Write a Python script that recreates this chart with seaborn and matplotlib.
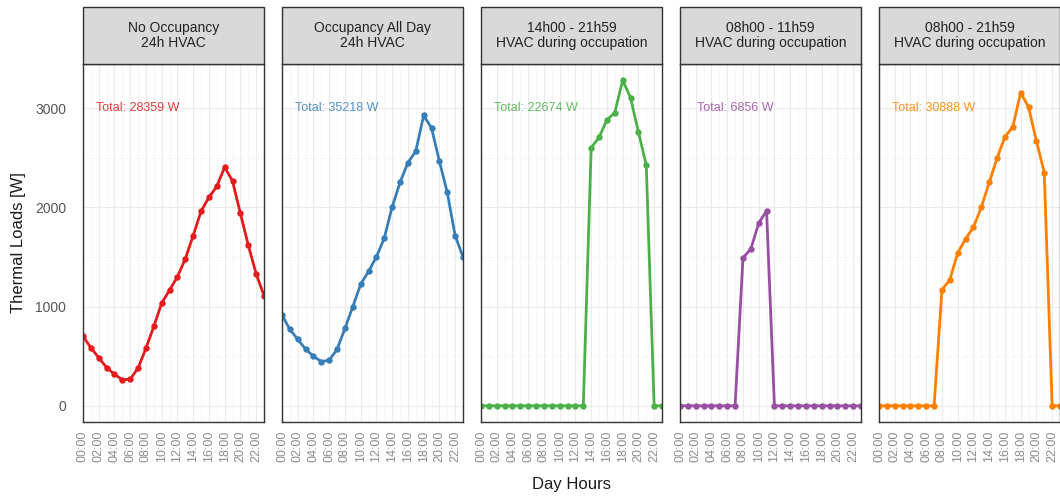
import numpy as np
import pandas as pd
import matplotlib
matplotlib.use("Agg")
import matplotlib.pyplot as plt
import seaborn as sns
from matplotlib.patches import Rectangle
from matplotlib.ticker import MultipleLocator

# ---------------- data ----------------
hours = list(range(24))
tick_hours = list(range(0, 24, 2))
tick_labels = [f"{h:02d}:00" for h in tick_hours]

scenarios = [
    "No Occupancy\n24h HVAC",
    "Occupancy All Day\n24h HVAC",
    "14h00 - 21h59\nHVAC during occupation",
    "08h00 - 11h59\nHVAC during occupation",
    "08h00 - 21h59\nHVAC during occupation",
]
totals = [
    "Total: 28359 W",
    "Total: 35218 W",
    "Total: 22674 W",
    "Total: 6856 W",
    "Total: 30888 W",
]
colors = ["#E41A1C", "#377EB8", "#4DAF4A", "#984EA3", "#FF7F00"]

no_occupancy = [702, 585, 485, 385, 318, 262, 268, 380, 580, 800, 1035, 1165, 1300,
                1480, 1715, 1960, 2100, 2210, 2405, 2265, 1940, 1620, 1330, 1110]
occupancy_all_day = [915, 770, 670, 570, 500, 445, 460, 570, 780, 1000, 1225, 1355, 1500,
                     1690, 2005, 2250, 2450, 2565, 2925, 2800, 2465, 2150, 1715, 1500]
hvac_14_22 = [0, 0, 0, 0, 0, 0, 0, 0, 0, 0, 0, 0, 0, 0,
              2600, 2705, 2880, 2955, 3280, 3105, 2760, 2425, 0, 0]
hvac_08_12 = [0, 0, 0, 0, 0, 0, 0, 0, 1490, 1580, 1840, 1965,
              0, 0, 0, 0, 0, 0, 0, 0, 0, 0, 0, 0]
hvac_08_22 = [0, 0, 0, 0, 0, 0, 0, 0, 1170, 1270, 1540, 1680, 1800, 2000,
              2250, 2495, 2710, 2810, 3155, 3010, 2670, 2350, 0, 0]

series = [no_occupancy, occupancy_all_day, hvac_14_22, hvac_08_12, hvac_08_22]

df = pd.concat(
    [pd.DataFrame({"hour": hours, "load": vals, "scenario": sc})
     for sc, vals in zip(scenarios, series)],
    ignore_index=True,
)

# ---------------- style ----------------
sns.set_theme(style="white")
plt.rcParams["font.family"] = ["Liberation Sans", "DejaVu Sans"]

fig, axes = plt.subplots(1, 5, figsize=(10.6, 4.96), dpi=100, sharey=True)
fig.subplots_adjust(left=0.0783, right=1.0, bottom=0.149, top=0.871, wspace=0.0995)

ymin, ymax = -164, 3444
strip_h = 57 / 358

for i, (ax, sc, tot, col) in enumerate(zip(axes, scenarios, totals, colors)):
    sub = df[df["scenario"] == sc]
    sns.lineplot(data=sub, x="hour", y="load", color=col, ax=ax,
                 linewidth=2.0, marker="o", markersize=4.6,
                 markeredgewidth=0, legend=False)
    ax.set_xlim(0, 23)
    ax.set_ylim(ymin, ymax)
    ax.set_xticks(tick_hours)
    ax.set_xticklabels(tick_labels, rotation=90)
    ax.xaxis.set_minor_locator(MultipleLocator(1))
    ax.set_yticks([0, 1000, 2000, 3000])
    ax.yaxis.set_minor_locator(MultipleLocator(500))
    ax.grid(True, which="major", color="#EBEBEB", linewidth=0.8)
    ax.grid(True, which="minor", color="#F3F3F3", linewidth=0.5)
    ax.set_axisbelow(True)
    ax.set_xlabel("")
    ax.set_ylabel("")
    for sp in ax.spines.values():
        sp.set_visible(True)
        sp.set_color("#333333")
        sp.set_linewidth(1.0)
    ax.tick_params(axis="x", which="major", labelsize=9, labelcolor="#8C8C8C",
                   length=0, pad=6)
    ax.tick_params(axis="y", which="major", labelsize=10, labelcolor="#555555",
                   length=0, pad=12)
    ax.tick_params(which="minor", length=0)
    # strip
    ax.add_patch(Rectangle((0, 1), 1, strip_h, transform=ax.transAxes,
                           facecolor="#D9D9D9", edgecolor="#333333",
                           linewidth=1.0, clip_on=False, zorder=3))
    ax.text(0.5, 1 + strip_h / 2, sc, transform=ax.transAxes, ha="center",
            va="center", fontsize=10, color="#222222", linespacing=1.1, zorder=4)
    # total annotation
    ax.text(7, 3000, tot, ha="center", va="center", fontsize=9,
            color=col, alpha=0.85)

fig.text(0.017, 0.51, "Thermal Loads [W]", rotation=90, ha="center",
         va="center", fontsize=12, color="#1A1A1A")
fig.text(0.539, 0.024, "Day Hours", ha="center", va="center",
         fontsize=12, color="#1A1A1A")

fig.savefig("out.png", dpi=100)
